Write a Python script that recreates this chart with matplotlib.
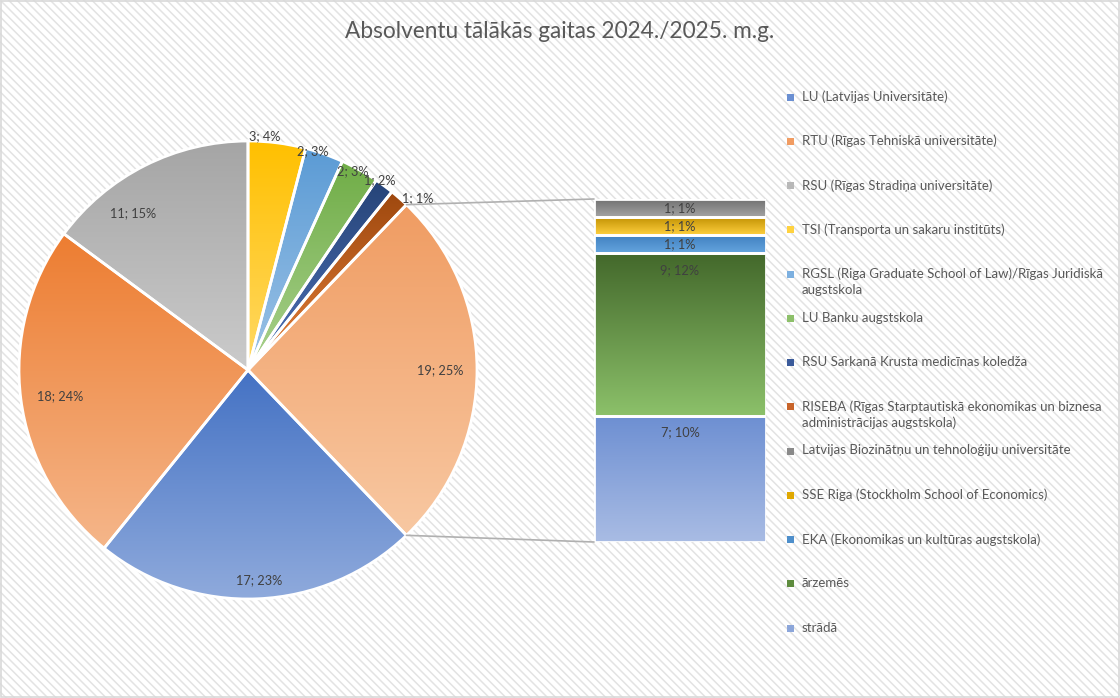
import textwrap
import numpy as np
import matplotlib
matplotlib.use('Agg')
import matplotlib.pyplot as plt
from matplotlib.colors import LinearSegmentedColormap
from matplotlib.patches import Rectangle, ConnectionPatch

plt.rcParams['font.family'] = ['Lato', 'DejaVu Sans']
plt.rcParams['hatch.color'] = '#E3E3E3'
plt.rcParams['hatch.linewidth'] = 1.1

title = "Absolventu tālākās gaitas 2024./2025. m.g."

# main pie slices (legend order)
main_names = [
    "LU (Latvijas Universitāte)",
    "RTU (Rīgas Tehniskā universitāte)",
    "RSU (Rīgas Stradiņa universitāte)",
    "TSI (Transporta un sakaru institūts)",
    "RGSL (Riga Graduate School of Law)/Rīgas Juridiskā augstskola",
    "LU Banku augstskola",
    "RSU Sarkanā Krusta medicīnas koledža",
    "RISEBA (Rīgas Starptautiskā ekonomikas un biznesa administrācijas augstskola)",
]
main_values = [17, 18, 11, 3, 2, 2, 1, 1]
main_pct = [23, 24, 15, 4, 3, 3, 2, 1]

# points moved to the secondary bar (legend order, top of bar first)
other_names = [
    "Latvijas Biozinātņu un tehnoloģiju universitāte",
    "SSE Riga (Stockholm School of Economics)",
    "EKA (Ekonomikas un kultūras augstskola)",
    "ārzemēs",
    "strādā",
]
other_values = [1, 1, 1, 9, 7]
other_pct = [1, 1, 1, 12, 10]
other_slice_pct = 25

# gradient colours (top, bottom)
main_grad = [("#4472C4", "#8FAADC"), ("#ED7D31", "#F5B68A"), ("#A5A5A5", "#CBCBCB"),
             ("#FFC000", "#FFD966"), ("#5B9BD5", "#9DC3E6"), ("#70AD47", "#A9D18E"),
             ("#264478", "#4F72B8"), ("#9E480E", "#E5803A")]
other_slice_grad = ("#F09C62", "#F8C8A2")
other_grad = [("#6E6E6E", "#A3A3A3"), ("#BF8F00", "#FFD03F"), ("#3F7FBF", "#64A4DE"),
              ("#43682B", "#8CC16A"), ("#6D8FD2", "#A9BCE4")]
main_legend_colors = ["#6A8FD2", "#F19C62", "#B8B8B8", "#FFD23F", "#7DB0E0",
                      "#8DC06A", "#3A5A9A", "#C8642A"]
other_legend_colors = ["#8A8A8A", "#E0A800", "#4E8FCB", "#5E8C3E", "#8CA6DA"]

# label placement (radius fraction, angle shift) per pie slice: other, then main
label_place = [(0.84, 0), (0.92, 0.5), (0.83, 0.5), (0.85, 9.4), (1.025, 3.1),
               (0.997, 3.0), (0.983, 1.4), (1.01, 1.7), (1.057, -3.3)]

W, H = 1120, 698
fig = plt.figure(figsize=(W / 100, H / 100), dpi=100)
bg = Rectangle((0, 0), 1, 1, transform=fig.transFigure, facecolor='white',
               edgecolor='#E3E3E3', hatch='\\\\\\\\', linewidth=0, zorder=-10)
fig.patches.append(bg)
fig.patches.append(Rectangle((0.0006, 0.001), 0.9988, 0.998, transform=fig.transFigure,
                             fill=False, edgecolor='#D9D9D9', linewidth=1.2))

ax = fig.add_axes([0, 0, 1, 1])
cx, cy, r = 248, H - 370, 229


def grad_fill(axis, patch, colors, ext):
    cmap = LinearSegmentedColormap.from_list('g', list(colors))
    g = np.linspace(0, 1, 256).reshape(-1, 1)
    im = axis.imshow(g, extent=[ext.x0, ext.x1, ext.y0, ext.y1], cmap=cmap, aspect='auto',
                     origin='upper', zorder=1, interpolation='bilinear')
    im.set_clip_path(patch)


other_total = sum(other_values)
pie_vals = [other_total] + main_values
start = 360 * other_total / sum(pie_vals) / 2
wedges, _ = ax.pie(pie_vals, startangle=start, counterclock=False, center=(cx, cy), radius=r,
                   wedgeprops=dict(facecolor='none', edgecolor='white', linewidth=2, zorder=2))
for w, cols in zip(wedges, [other_slice_grad] + main_grad):
    grad_fill(ax, w, cols, w.get_path().get_extents())

pie_texts = [f"{other_total}; {other_slice_pct}%"] + [f"{v}; {p}%" for v, p in zip(main_values, main_pct)]
for w, txt, (frac, dth) in zip(wedges, pie_texts, label_place):
    ang = np.deg2rad((w.theta1 + w.theta2) / 2 + dth)
    ax.text(cx + r * frac * np.cos(ang), cy + r * frac * np.sin(ang), txt,
            ha='center', va='center', fontsize=9.2, color='#404040', zorder=5)

ax.set_xlim(0, W)
ax.set_ylim(0, H)
ax.set_axis_off()

ax.text(W / 2, H - 32, title, ha='center', va='center', fontsize=16.3, color='#595959')

# secondary bar
ax2 = fig.add_axes([594 / W, (H - 542) / H, 172 / W, 343 / H])
ax2.set_xlim(-0.5, 0.5)
ax2.set_ylim(0, other_total)
ax2.set_axis_off()
heights = other_values[::-1]
bottoms = np.concatenate([[0], np.cumsum(heights)[:-1]])
bars = ax2.bar([0] * len(heights), heights, bottom=bottoms, width=1, facecolor='none',
               edgecolor='white', linewidth=2, zorder=2)
px_unit = 343 / other_total
for b, cols, v, p in zip(bars, other_grad[::-1], heights, other_pct[::-1]):
    grad_fill(ax2, b, cols, b.get_bbox())
    off = min(17, v * px_unit / 2) * 0.72
    ax2.annotate(f"{v}; {p}%", xy=(0, b.get_y() + b.get_height()), xytext=(0, -off),
                 textcoords='offset points', ha='center', va='center', fontsize=9.2,
                 color='#404040', zorder=5)

# connector lines
w0 = wedges[0]
for th, yb in [(w0.theta2, other_total), (w0.theta1, 0)]:
    a = np.deg2rad(th)
    con = ConnectionPatch(xyA=(cx + r * np.cos(a), cy + r * np.sin(a)), coordsA=ax.transData,
                          xyB=(-0.5, yb), coordsB=ax2.transData, color='#B0B0B0', lw=1.2)
    fig.add_artist(con)

# legend
names = main_names + other_names
lcolors = main_legend_colors + other_legend_colors
for i, (nm, col) in enumerate(zip(names, lcolors)):
    y = H - (97 + i * 44.25)
    ax.add_patch(Rectangle((787, y - 3.5), 7, 7, facecolor=col, edgecolor='none'))
    ax.text(802, y + 6.5, textwrap.fill(nm, 51), ha='left', va='top', fontsize=9.5,
            color='#595959', linespacing=1.38)

fig.savefig('out.png', dpi=100)
